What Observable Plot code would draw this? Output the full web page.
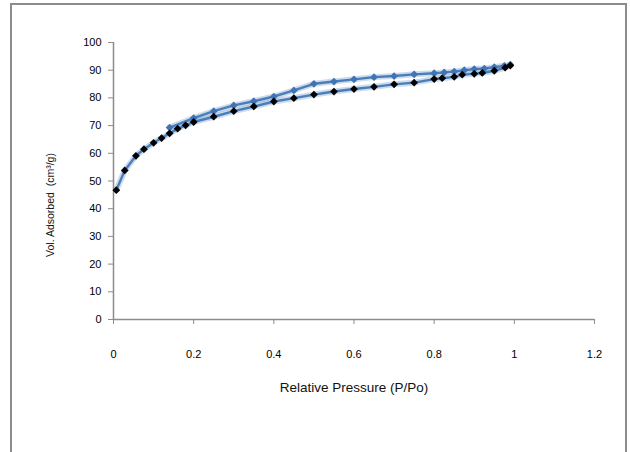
<!DOCTYPE html>
<html>
<head>
<meta charset="utf-8">
<script src="https://cdn.jsdelivr.net/npm/d3@7"></script>
<script src="https://cdn.jsdelivr.net/npm/@observablehq/plot@0.6"></script>
<style>
  html, body { margin: 0; padding: 0; background: #fff; }
  #wrap { position: relative; width: 630px; height: 452px; overflow: hidden; }
  #frame { position: absolute; left: 10px; top: 3px; width: 617px; height: 460px;
           border: 2px solid #8c8c8c; box-sizing: border-box; pointer-events: none; }
</style>
</head>
<body>
<div id="wrap"><div id="frame"></div></div>
<script>
// Adsorption branch (black diamond markers)
const adsP = [0.007,0.028,0.056,0.076,0.10,0.12,0.14,0.16,0.18,0.20,0.25,0.30,0.35,0.40,0.45,0.50,0.55,0.60,0.65,0.70,0.75,0.80,0.82,0.85,0.87,0.90,0.92,0.95,0.977,0.99];
const adsV = [46.7,53.8,59.1,61.5,63.8,65.5,67.2,68.9,70.1,71.3,73.2,75.2,76.9,78.7,79.9,81.2,82.3,83.2,84.0,84.9,85.5,86.8,87.1,87.6,88.4,88.7,89.0,89.8,90.9,91.7];
// Desorption branch (blue markers)
const desP = [0.99,0.975,0.95,0.925,0.90,0.875,0.85,0.825,0.80,0.75,0.70,0.65,0.60,0.55,0.50,0.45,0.40,0.35,0.30,0.25,0.20,0.14];
const desV = [92.0,91.6,91.1,90.6,90.4,90.0,89.5,89.2,88.9,88.5,87.9,87.5,86.7,85.9,85.1,82.7,80.5,78.8,77.3,75.2,72.7,69.3];
const xTicks = [0,0.2,0.4,0.6,0.8,1,1.2];
const yTicks = [0,10,20,30,40,50,60,70,80,90,100];
const xLabel = "Relative Pressure (P/Po)";
const yLabel = "Vol. Adsorbed  (cm³/g)";

const ads = adsP.map((p,i) => ({p, v: adsV[i]}));
const des = desP.map((p,i) => ({p, v: desV[i]}));
const lineColor = "#4a7ebb";
const markColor = "#3f74b5";
const axisColor = "#8c8c8c";

const chart = Plot.plot({
  width: 630,
  height: 452,
  marginLeft: 113,
  marginRight: 36,
  marginTop: 42,
  marginBottom: 133,
  style: {fontFamily: "'Liberation Sans', Arial, sans-serif", fontSize: "10.5px", color: "#000", background: "transparent"},
  x: {domain: [0, 1.2]},
  y: {domain: [0, 100]},
  marks: [
    Plot.axisX({ticks: xTicks, tickFormat: d => String(d), tickSize: 5, tickPadding: 26, stroke: axisColor, label: null, fontSize: 11}),
    Plot.axisY({ticks: yTicks, tickSize: 5, tickPadding: 7, stroke: axisColor, label: null, fontSize: 11}),
    Plot.ruleX([0], {stroke: axisColor, strokeWidth: 1.5}),
    Plot.ruleY([0], {stroke: axisColor, strokeWidth: 1.5}),
    Plot.line(des, {x: "p", y: "v", stroke: lineColor, strokeWidth: 6, strokeOpacity: 0.28}),
    Plot.line(ads, {x: "p", y: "v", stroke: lineColor, strokeWidth: 6, strokeOpacity: 0.28}),
    Plot.line(des, {x: "p", y: "v", stroke: lineColor, strokeWidth: 2.4}),
    Plot.line(ads, {x: "p", y: "v", stroke: lineColor, strokeWidth: 2.4}),
    Plot.dot(des, {x: "p", y: "v", symbol: "square", rotate: 45, r: 3.1, fill: markColor}),
    Plot.dot(ads, {x: "p", y: "v", symbol: "square", rotate: 45, r: 3.1, fill: "#000"}),
    Plot.text([xLabel], {frameAnchor: "bottom", dy: 68, lineAnchor: "middle", textAnchor: "middle", fontFamily: "'Liberation Sans Narrow', 'Arial Narrow', sans-serif", fontSize: 13.5, fill: "#111"}),
    Plot.text([yLabel], {frameAnchor: "left", dx: -63, dy: 24, rotate: -90, lineAnchor: "middle", textAnchor: "middle", fontSize: 10.5, fill: "#111", letterSpacing: "0.8px"})
  ]
});
document.getElementById("wrap").prepend(chart);
</script>
</body>
</html>
